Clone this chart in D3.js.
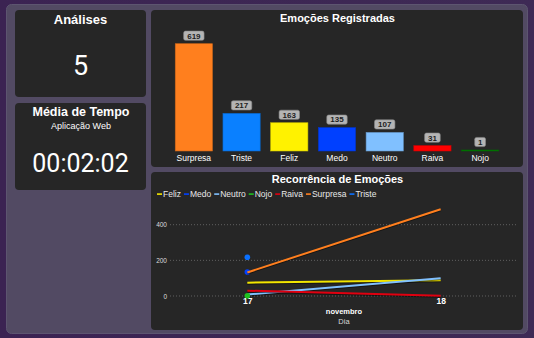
<!DOCTYPE html>
<html><head><meta charset="utf-8">
<script src="https://cdn.jsdelivr.net/npm/d3@7"></script>
<style>
html,body{margin:0;padding:0;background:#3a2550;overflow:hidden}
svg{display:block}
text{font-family:"Liberation Sans",Arial,Helvetica,sans-serif}
</style></head>
<body>
<svg id="c" width="534" height="338"></svg>
<script>
// ---- data ----
const analysesCount = "5";
const avgTime = "00:02:02";
const categories = ["Surpresa","Triste","Feliz","Medo","Neutro","Raiva","Nojo"];
const counts = [619,217,163,135,107,31,1];
const days = ["17","18"];
const seriesNames = ["Feliz","Medo","Neutro","Nojo","Raiva","Surpresa","Triste"];
const felizValues = [75,88];
const medoValues = [135,null];
const neutroValues = [8,99];
const nojoValues = [1,null];
const raivaValues = [30,1];
const surpresaValues = [132,487];
const tristeValues = [217,null];
const yTicks = [0,200,400];

// ---- styles ----
const colorOf = {Surpresa:"#ff7f1e",Triste:"#0a80ff",Feliz:"#fff200",Medo:"#0040ff",Neutro:"#80c0ff",Raiva:"#ff0000",Nojo:"#008000"};
const lineColorOf = {Feliz:"#f2e600",Medo:"#0040ff",Neutro:"#80c0ff",Nojo:"#1fc01f",Raiva:"#e00010",Surpresa:"#ff7f1e",Triste:"#0a70ff"};
const seriesValues = {Feliz:felizValues,Medo:medoValues,Neutro:neutroValues,Nojo:nojoValues,Raiva:raivaValues,Surpresa:surpresaValues,Triste:tristeValues};

const svg = d3.select("#c");
const defs = svg.append("defs");
const g = defs.append("linearGradient").attr("id","bg").attr("x1","0").attr("x2","1").attr("y1","0").attr("y2","0");
g.append("stop").attr("offset","0").attr("stop-color","#3b2352");
g.append("stop").attr("offset","1").attr("stop-color","#3e2a55");
svg.append("rect").attr("width",534).attr("height",338).attr("fill","url(#bg)");
// container
svg.append("rect").attr("x",6.5).attr("y",4.5).attr("width",521).attr("height",329).attr("rx",5)
  .attr("fill","#524a63").attr("stroke","#5d5570").attr("stroke-width",1);
// cards
const cards = [[15,10,131,87],[15,103,131,87],[151,10,372,157],[151,172,372,158]];
svg.selectAll("rect.card").data(cards).join("rect").attr("class","card")
  .attr("x",d=>d[0]).attr("y",d=>d[1]).attr("width",d=>d[2]).attr("height",d=>d[3]).attr("rx",4)
  .attr("fill","#262626");

// left cards text
svg.append("text").attr("x",80.5).attr("y",19).attr("dy","0.35em").attr("text-anchor","middle")
  .attr("fill","#fff").attr("font-weight","bold").attr("font-size",13).text("Análises");
svg.append("text").attr("x",80.5).attr("y",65).attr("dy","0.36em").attr("text-anchor","middle")
  .attr("fill","#fff").attr("font-size",27).style("font-family","Roboto,sans-serif").text(analysesCount);
svg.append("text").attr("x",81).attr("y",111.7).attr("dy","0.35em").attr("text-anchor","middle")
  .attr("fill","#fff").attr("font-weight","bold").attr("font-size",12.5).text("Média de Tempo");
svg.append("text").attr("x",81).attr("y",126).attr("dy","0.35em").attr("text-anchor","middle")
  .attr("fill","#fff").attr("font-size",9).text("Aplicação Web");
svg.append("text").attr("x",80.5).attr("y",163).attr("dy","0.36em").attr("text-anchor","middle")
  .attr("fill","#fff").attr("font-size",25).style("font-family","Roboto,sans-serif").text(avgTime);

// ---- bar chart ----
svg.append("text").attr("x",337.5).attr("y",18).attr("dy","0.35em").attr("text-anchor","middle")
  .attr("fill","#fff").attr("font-weight","bold").attr("font-size",11).text("Emoções Registradas");
const xb = d3.scaleBand().domain(categories).range([170,504]).paddingInner(0.22).paddingOuter(0.11);
const yb = d3.scaleLinear().domain([0,619]).range([151,43.7]);
const barData = categories.map((c,i)=>({c,v:counts[i]}));
svg.selectAll("rect.bar").data(barData).join("rect").attr("class","bar")
  .attr("x",d=>xb(d.c)).attr("width",xb.bandwidth())
  .attr("y",d=>Math.min(yb(d.v),yb(0)-1)).attr("height",d=>Math.max(yb(0)-yb(d.v),1))
  .attr("fill",d=>colorOf[d.c])
  .attr("stroke",d=>d3.color(colorOf[d.c]).darker(0.6)).attr("stroke-width",0.6);
const lab = svg.selectAll("g.lab").data(barData).join("g").attr("class","lab")
  .attr("transform",d=>`translate(${xb(d.c)+xb.bandwidth()/2},${Math.min(yb(d.v),yb(0)-1)-8})`);
lab.append("rect").attr("x",d=>-(String(d.v).length*4.8+6)/2).attr("y",-4.6)
  .attr("width",d=>String(d.v).length*4.8+6).attr("height",9.2).attr("rx",1.8)
  .attr("fill","#b4b4b4").attr("stroke","#8a8a8a").attr("stroke-width",0.6);
lab.append("text").attr("dy","0.36em").attr("text-anchor","middle").attr("fill","#1e1e1e")
  .attr("font-weight","bold").attr("font-size",8).text(d=>d.v);
svg.selectAll("text.cat").data(categories).join("text").attr("class","cat")
  .attr("x",d=>xb(d)+xb.bandwidth()/2).attr("y",158.3).attr("dy","0.35em").attr("text-anchor","middle")
  .attr("fill","#fff").attr("font-size",8.5).text(d=>d);

// ---- line chart ----
svg.append("text").attr("x",337.5).attr("y",179).attr("dy","0.35em").attr("text-anchor","middle")
  .attr("fill","#fff").attr("font-weight","bold").attr("font-size",11).text("Recorrência de Emoções");
// legend
let lx = 157;
seriesNames.forEach(n=>{
  svg.append("rect").attr("x",lx).attr("y",193.3).attr("width",5).attr("height",1.6).attr("fill",lineColorOf[n]);
  const t = svg.append("text").attr("x",lx+6).attr("y",194).attr("dy","0.35em").attr("fill","#e8e8e8")
    .attr("font-size",8.5).text(n);
  lx += 6 + t.node().getComputedTextLength() + 3;
});
const xl = d3.scalePoint().domain(days).range([170,518]).padding(0.4);
const yl = d3.scaleLinear().domain([0,400]).range([296,224.7]);
// grid
svg.selectAll("line.grid").data(yTicks).join("line").attr("class","grid")
  .attr("x1",170).attr("x2",518).attr("y1",d=>yl(d)).attr("y2",d=>yl(d))
  .attr("stroke","#6e6e6e").attr("stroke-width",0.8).attr("stroke-dasharray","1,2");
const yAxis = svg.append("g").attr("transform","translate(167,0)")
  .call(d3.axisLeft(yl).tickValues(yTicks).tickSize(0).tickPadding(0));
yAxis.select(".domain").remove();
yAxis.selectAll("text").attr("fill","#dcdcdc").attr("font-size",6.5).style("font-family","'Liberation Sans',Arial,sans-serif");
const xAxis = svg.append("g").attr("transform","translate(0,297.5)")
  .call(d3.axisBottom(xl).tickSize(0).tickPadding(0));
xAxis.select(".domain").remove();
xAxis.selectAll("text").attr("fill","#fff").attr("font-size",8.5).attr("font-weight","bold")
  .style("font-family","'Liberation Sans',Arial,sans-serif");
svg.append("text").attr("x",344).attr("y",311.7).attr("dy","0.35em").attr("text-anchor","middle")
  .attr("fill","#fff").attr("font-weight","bold").attr("font-size",7.5).text("novembro");
svg.append("text").attr("x",344).attr("y",321.7).attr("dy","0.35em").attr("text-anchor","middle")
  .attr("fill","#d8d8d8").attr("font-size",7.5).text("Dia");

const line = d3.line().defined(d=>d.v!=null).x(d=>xl(d.day)).y(d=>yl(d.v));
seriesNames.forEach(n=>{
  const pts = days.map((day,i)=>({day,v:seriesValues[n][i]}));
  const valid = pts.filter(p=>p.v!=null);
  if(valid.length>1){
    svg.append("path").datum(pts).attr("d",line).attr("fill","none")
      .attr("stroke","rgba(0,0,0,0.45)").attr("stroke-width",2).attr("transform","translate(0,1)");
    svg.append("path").datum(pts).attr("d",line).attr("fill","none")
      .attr("stroke",lineColorOf[n]).attr("stroke-width",2);
  } else {
    svg.selectAll(null).data(valid).join("circle").attr("cx",d=>xl(d.day)).attr("cy",d=>yl(d.v))
      .attr("r",2.8).attr("fill",lineColorOf[n]);
  }
});
</script>
</body></html>
